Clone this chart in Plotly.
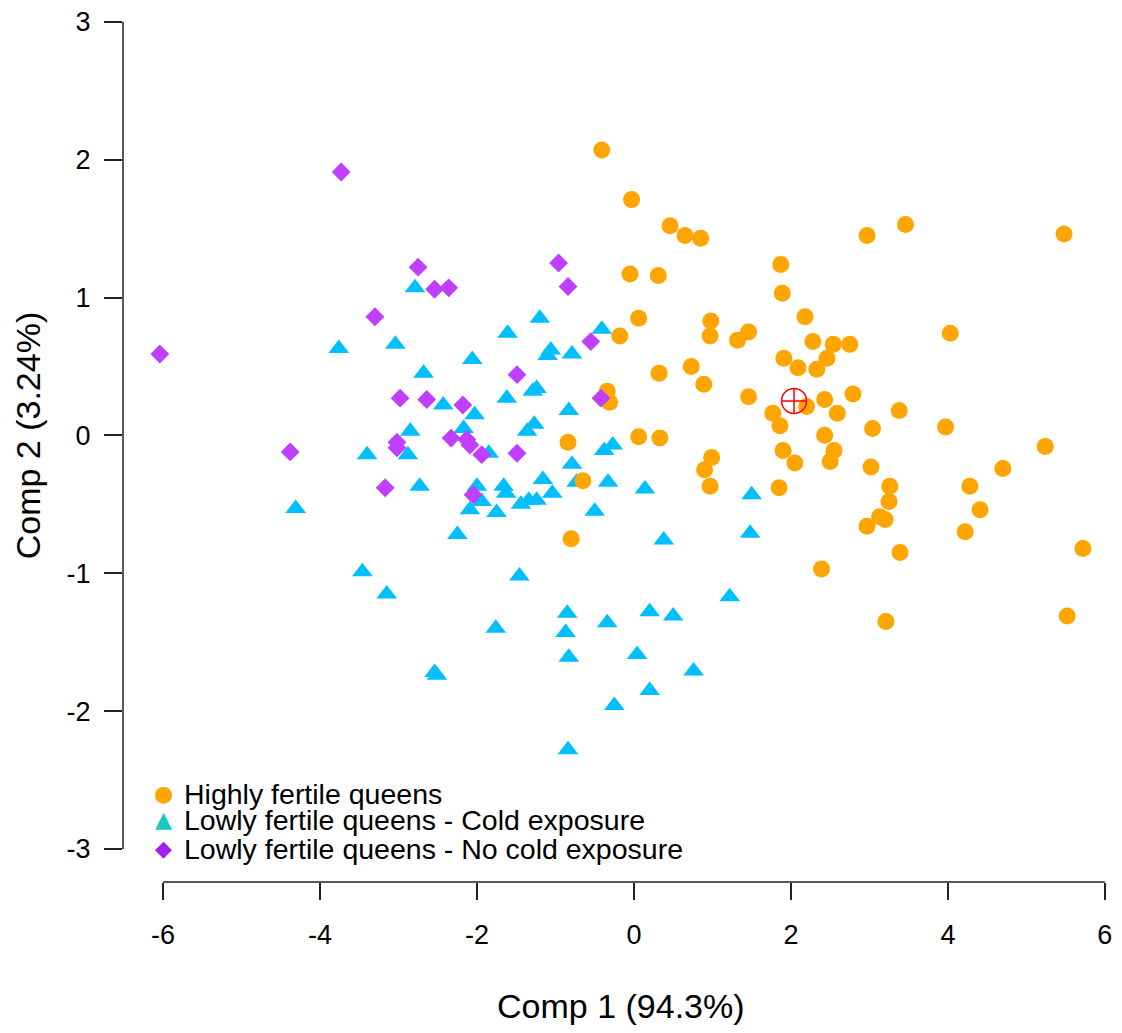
import plotly.graph_objects as go

# ---- data (Comp 1, Comp 2) ----
high_x = [-0.41, -0.03, 0.46, 0.65, 0.85, -0.05, 0.31, 2.97, 3.46, 5.48, 1.87, 1.89, 0.98, 2.18, 0.06,
          -0.18, 0.97, 1.32, 1.46, 4.03, 2.28, 2.54, 2.75, 0.73, 0.32, 1.91, 2.46, 2.09, 2.33, 0.89,
          -0.34, -0.31, 2.79, 1.46, 2.20, 2.43, 3.38, 1.77, 2.59, 1.86, 3.04, 3.97, 0.06, 0.33, 2.43,
          -0.84, 1.90, 2.55, 0.99, 2.50, 2.05, 3.02, 5.24, 4.70, 0.90, -0.65, 0.97, 3.26, 4.28, 1.85,
          3.25, 4.41, 3.13, 3.20, 2.97, -0.80, 4.22, 5.72, 3.39, 2.39, 3.21, 5.52]
high_y = [2.07, 1.71, 1.52, 1.45, 1.43, 1.17, 1.16, 1.45, 1.53, 1.46, 1.24, 1.03, 0.83, 0.86, 0.85,
          0.72, 0.72, 0.69, 0.75, 0.74, 0.68, 0.66, 0.66, 0.50, 0.45, 0.56, 0.56, 0.49, 0.48, 0.37,
          0.32, 0.24, 0.30, 0.28, 0.21, 0.26, 0.18, 0.16, 0.16, 0.07, 0.05, 0.06, -0.01, -0.02, 0.00,
          -0.05, -0.11, -0.11, -0.16, -0.19, -0.20, -0.23, -0.08, -0.24, -0.25, -0.33, -0.37, -0.37, -0.37, -0.38,
          -0.48, -0.54, -0.59, -0.61, -0.66, -0.75, -0.70, -0.82, -0.85, -0.97, -1.35, -1.31]

cold_x = [-2.79, -3.76, -3.04, -2.06, -2.68, -1.61, -1.20, -1.06, -1.10, -0.79, -0.41, -2.43, -1.62, -1.24,
          -1.29, -2.03, -0.83, -2.85, -2.17, -1.27, -1.36, -3.40, -2.88, -1.85, -0.79, -0.27, -0.38, -2.73,
          -2.00, -1.94, -2.09, -1.75, -1.66, -1.63, -1.16, -1.04, -1.44, -1.34, -1.24, -0.73, -0.33, -0.50,
          0.14, 1.50, 1.48, 0.38, -4.31, -2.25, -1.46, -3.46, -3.15, -1.76, -0.85, -0.87, -0.34, 0.20,
          0.50, 1.22, -0.83, 0.04, 0.76, -2.54, -2.51, 0.20, -0.25, -0.84]
cold_y = [1.07, 0.63, 0.66, 0.55, 0.45, 0.74, 0.85, 0.62, 0.58, 0.59, 0.77, 0.22, 0.27, 0.34,
          0.32, 0.15, 0.18, 0.03, 0.05, 0.08, 0.03, -0.14, -0.14, -0.13, -0.21, -0.07, -0.11, -0.37,
          -0.37, -0.48, -0.54, -0.56, -0.37, -0.42, -0.32, -0.42, -0.50, -0.47, -0.47, -0.34, -0.34, -0.55,
          -0.39, -0.43, -0.71, -0.76, -0.53, -0.72, -1.02, -0.99, -1.15, -1.40, -1.29, -1.43, -1.36, -1.28,
          -1.31, -1.17, -1.61, -1.59, -1.71, -1.72, -1.74, -1.85, -1.96, -2.28]

nocold_x = [-6.04, -3.73, -2.75, -2.54, -2.36, -3.30, -0.96, -0.84, -0.55, -1.49, -0.42, -2.98,
            -2.64, -2.18, -3.02, -3.02, -2.33, -2.13, -2.09, -1.94, -4.38, -3.17, -2.05, -1.49]
nocold_y = [0.59, 1.91, 1.22, 1.06, 1.07, 0.86, 1.25, 1.08, 0.68, 0.44, 0.27, 0.27,
            0.26, 0.22, -0.05, -0.09, -0.02, -0.03, -0.07, -0.14, -0.12, -0.38, -0.43, -0.13]

centroid_x = [2.04]
centroid_y = [0.25]

x_ticks = [-6, -4, -2, 0, 2, 4, 6]
y_ticks = [-3, -2, -1, 0, 1, 2, 3]

legend_labels = ["Highly fertile queens",
                 "Lowly fertile queens - Cold exposure",
                 "Lowly fertile queens - No cold exposure"]
legend_glyphs = ["\u25CF", "\u25B2", "\u25C6"]
legend_colors = ["#FFA500", "#19C8C0", "#A020F0"]
legend_rows = [-2.60, -2.79, -3.00]

FONT = "Liberation Sans, Arial, Helvetica, sans-serif"
AX = "#222222"

fig = go.Figure()
fig.add_trace(go.Scatter(x=cold_x, y=cold_y, mode="markers",
                         marker=dict(symbol="triangle-up", size=18, color="#00BFFF"),
                         name=legend_labels[1]))
fig.add_trace(go.Scatter(x=high_x, y=high_y, mode="markers",
                         marker=dict(symbol="circle", size=17, color="#FFA500"),
                         name=legend_labels[0]))
fig.add_trace(go.Scatter(x=nocold_x, y=nocold_y, mode="markers",
                         marker=dict(symbol="diamond", size=14.5, color="#BF3EFF"),
                         name=legend_labels[2]))
fig.add_trace(go.Scatter(x=centroid_x, y=centroid_y, mode="markers",
                         marker=dict(symbol="circle-cross-open", size=25, color="#FF0000",
                                     line=dict(width=1.5, color="#FF0000")),
                         name="centroid"))

# R-style detached axis lines
fig.add_shape(type="line", xref="x", yref="paper", x0=x_ticks[0], x1=x_ticks[-1], y0=0, y1=0,
              line=dict(color=AX, width=1.5))
fig.add_shape(type="line", xref="paper", yref="y", x0=0, x1=0, y0=y_ticks[0], y1=y_ticks[-1],
              line=dict(color=AX, width=1.5))

annotations = []
for lab, gl, col, ry in zip(legend_labels, legend_glyphs, legend_colors, legend_rows):
    annotations.append(dict(x=-6.0, y=ry, xref="x", yref="y", text=gl, showarrow=False,
                            xanchor="center", yanchor="middle",
                            font=dict(family="DejaVu Sans", size=22, color=col)))
    annotations.append(dict(x=-5.76, y=ry, xref="x", yref="y", text=lab, showarrow=False,
                            xanchor="left", yanchor="middle",
                            font=dict(family=FONT, size=28.5, color="#000000")))
annotations.append(dict(x=-0.17, y=-0.142, xref="x", yref="paper", text="Comp 1 (94.3%)",
                        showarrow=False, xanchor="center", yanchor="middle",
                        font=dict(family=FONT, size=34, color="#000000")))
annotations.append(dict(x=-0.0954, y=0, xref="paper", yref="y", text="Comp 2 (3.24%)",
                        showarrow=False, xanchor="center", yanchor="middle", textangle=-90,
                        font=dict(family=FONT, size=34, color="#000000")))

fig.update_layout(
    width=1114, height=1025,
    margin=dict(l=115, r=3, t=0, b=151),
    paper_bgcolor="white", plot_bgcolor="white",
    showlegend=False,
    annotations=annotations,
    xaxis=dict(range=[-6.51, 6.18], tickvals=x_ticks, ticktext=[str(v) for v in x_ticks],
               showgrid=False, zeroline=False, showline=False, automargin=False,
               ticks="outside", ticklen=17, tickwidth=1.5, tickcolor=AX,
               ticklabelstandoff=12, ticklabeloverflow="allow",
               tickfont=dict(family=FONT, size=27, color="#000000")),
    yaxis=dict(range=[-3.24, 3.10], tickvals=y_ticks, ticktext=[str(v) for v in y_ticks],
               showgrid=False, zeroline=False, showline=False, automargin=False,
               ticks="outside", ticklen=18, tickwidth=1.5, tickcolor=AX,
               ticklabelstandoff=8, ticklabeloverflow="allow",
               tickfont=dict(family=FONT, size=27, color="#000000")),
)

fig.write_html("out.html")
